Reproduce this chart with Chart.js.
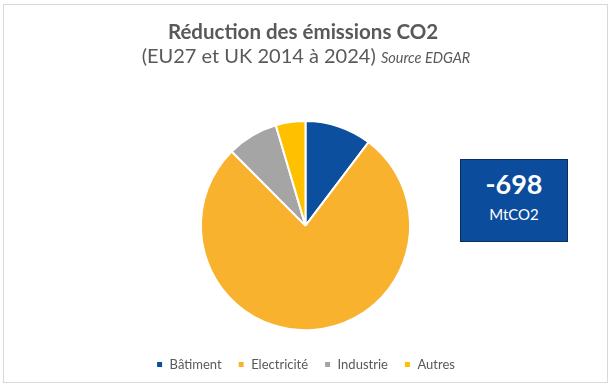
<!DOCTYPE html>
<html>
<head>
<meta charset="utf-8">
<script src="https://cdn.jsdelivr.net/npm/chart.js@4"></script>
<style>
  body { margin: 0; background: #fff; }
  #wrap { position: relative; width: 615px; height: 389px; }
  #frame { position: absolute; left: 3px; top: 4px; width: 603px; height: 377px; border: 1.5px solid #d9d9d9; }
  #total { position: absolute; left: 460px; top: 159px; width: 106px; height: 81px;
           background: #0b4d9c; border: 1.5px solid #0a2f5e; color: #fff;
           font-family: Lato, sans-serif; }
  #total div { position: absolute; left: 0; width: 100%; text-align: center; }
  #total .v { font-size: 27px; font-weight: bold; line-height: 27px; top: 10px; }
  #total .u { font-size: 15px; line-height: 15px; top: 47px; }
</style>
</head>
<body>
<div id="wrap">
  <div id="frame"></div>
  <canvas id="pieChart" width="615" height="389"></canvas>
  <div id="total"><div class="v">-698</div><div class="u">MtCO2</div></div>
</div>
<script>
  // valeurs en MtCO2
  const categories = ['Bâtiment', 'Electricité', 'Industrie', 'Autres'];
  const reductions = [72, 539, 55, 32];
  const colors = ['#0b4f9e', '#f8b22e', '#a5a5a5', '#ffc000'];

  const titleText = 'Réduction des émissions CO2';
  const subText = '(EU27 et UK 2014 à 2024)';
  const sourceText = 'Source EDGAR';

  const titlePlugin = {
    id: 'titres',
    afterDraw(chart) {
      const c = chart.ctx;
      c.save();
      c.fillStyle = '#595959';
      c.textBaseline = 'alphabetic';
      c.textAlign = 'center';
      c.font = 'bold 20.5px Lato';
      c.fillText(titleText, 303, 39);
      c.font = '20px Lato';
      const w1 = c.measureText(subText + ' ').width;
      c.font = 'italic 14.5px Lato';
      const w2 = c.measureText(sourceText).width;
      const x0 = 306 - (w1 + w2) / 2;
      c.textAlign = 'left';
      c.font = '20px Lato';
      c.fillText(subText, x0, 63);
      c.font = 'italic 14.5px Lato';
      c.fillText(sourceText, x0 + w1, 63);
      c.restore();
    }
  };

  new Chart(document.getElementById('pieChart'), {
    type: 'pie',
    data: {
      labels: categories,
      datasets: [{
        data: reductions,
        backgroundColor: colors,
        borderColor: '#ffffff',
        borderWidth: 2
      }]
    },
    options: {
      responsive: false,
      animation: false,
      layout: { padding: { top: 120, bottom: 8, left: 0, right: 4 } },
      plugins: {
        title: { display: false },
        tooltip: { enabled: false },
        legend: {
          position: 'bottom',
          title: { display: true, text: ' ', padding: 0, font: { size: 9 } },
          labels: {
            boxWidth: 7,
            boxHeight: 7,
            padding: 16,
            color: '#595959',
            font: { family: 'Lato', size: 13 }
          }
        }
      }
    },
    plugins: [titlePlugin]
  });
</script>
</body>
</html>
